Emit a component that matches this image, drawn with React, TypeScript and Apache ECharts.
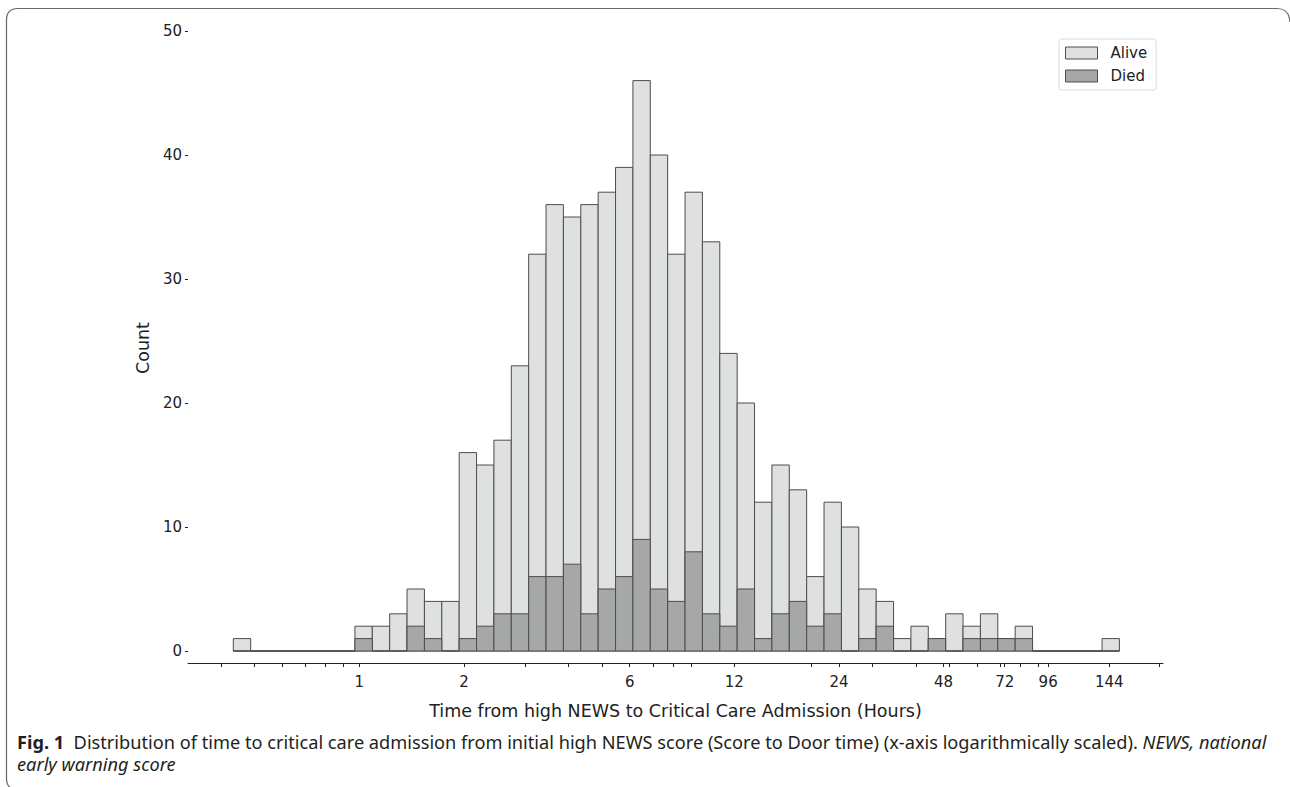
import React, { useEffect, useRef } from "react";
import * as echarts from "echarts";

// ---- data ----
// histogram bins: 51 equal-width bins on a log10(hours) scale
const BIN_LOG_START = -0.3626; // log10 of first bin edge (~0.434 h)
const BIN_LOG_WIDTH = 0.05; // bin width in log10(hours)
const ALIVE = [
  1, 0, 0, 0, 0, 0, 0, 2, 2, 3, 5, 4, 4, 16, 15, 17, 23, 32, 36, 35, 36, 37, 39, 46, 40, 32, 37, 33,
  24, 20, 12, 15, 13, 6, 12, 10, 5, 4, 1, 2, 1, 3, 2, 3, 1, 2, 0, 0, 0, 0, 1,
];
const DIED = [
  0, 0, 0, 0, 0, 0, 0, 1, 0, 0, 2, 1, 0, 1, 2, 3, 3, 6, 6, 7, 3, 5, 6, 9, 5, 4, 8, 3,
  2, 5, 1, 3, 4, 2, 3, 0, 1, 2, 0, 0, 1, 0, 1, 1, 1, 1, 0, 0, 0, 0, 0,
];
const X_LABEL_HOURS = [1, 2, 6, 12, 24, 48, 72, 96, 144];
const X_MINOR_HOURS = [0.4, 0.5, 0.6, 0.7, 0.8, 0.9, 3, 4, 5, 7, 8, 9, 20, 30, 40, 50, 60, 70, 80, 90, 200];
const X_MIN_HOURS = 0.3214;
const X_MAX_HOURS = 205.5;
const Y_MAX = 50;
const Y_INTERVAL = 10;

const SERIES_NAMES = ["Alive", "Died"];
const X_TITLE = "Time from high NEWS to Critical Care Admission (Hours)";
const Y_TITLE = "Count";
const CAPTION_1A = "Fig. 1";
const CAPTION_1B =
  "Distribution of time to critical care admission from initial high NEWS score (Score to Door time) (x-axis logarithmically scaled). ";
const CAPTION_1C = "NEWS, national";
const CAPTION_2 = "early warning score";

const FONT = "DejaVu Sans";
const TICK_SIZE = 15;
const TITLE_SIZE = 17.5;
const CAP_FONT = "Noto Sans";
const CAP_SIZE = 18.2;
const ALIVE_FILL = "#dfe0e0";
const DIED_FILL = "#a6a7a7";
const EDGE = "#4d4d4d";
const TEXT = "#222";
const CAP_COLOR = "#231f20";

echarts.graphic.registerShape(
  "figframe",
  echarts.graphic.extendPath(
    "M 1290 22 Q 1289 8.5 1277 8.5 L 18 8.5 Q 6.5 8.5 6.5 20 L 6.5 778 Q 6.5 786 11 788",
    {}
  )
);

function binData(values: number[]) {
  return values.map((v, i) => [
    BIN_LOG_START + i * BIN_LOG_WIDTH,
    BIN_LOG_START + (i + 1) * BIN_LOG_WIDTH,
    v,
  ]);
}

function makeRender(fill: string) {
  return (params: any, api: any) => {
    const p0 = api.coord([api.value(0), api.value(2)]);
    const p1 = api.coord([api.value(1), 0]);
    return {
      type: "rect",
      shape: { x: p0[0], y: p0[1], width: p1[0] - p0[0], height: p1[1] - p0[1] },
      style: { fill, stroke: EDGE, lineWidth: 1 },
    };
  };
}

export default function App() {
  const ref = useRef<HTMLDivElement>(null);
  useEffect(() => {
    if (!ref.current) return;
    const chart = echarts.init(ref.current, undefined, { renderer: "svg" });
    const allTicks = [...X_LABEL_HOURS, ...X_MINOR_HOURS].map((h) => Math.log10(h));
    chart.setOption({
      animation: false,
      backgroundColor: "#fff",
      grid: { left: 188, right: 127, top: 31, bottom: 136, containLabel: false },
      xAxis: {
        type: "value",
        min: Math.log10(X_MIN_HOURS),
        max: Math.log10(X_MAX_HOURS),
        offset: 12,
        axisLine: { show: true, onZero: false, lineStyle: { color: TEXT, width: 1 } },
        axisTick: { show: true, customValues: allTicks, length: 4, lineStyle: { color: TEXT } },
        axisLabel: {
          customValues: X_LABEL_HOURS.map((h) => Math.log10(h)),
          formatter: (v: number) => String(Math.round(Math.pow(10, v))),
          fontFamily: FONT,
          fontSize: TICK_SIZE,
          color: TEXT,
          margin: 11,
        },
        splitLine: { show: false },
      },
      yAxis: {
        type: "value",
        min: 0,
        max: Y_MAX,
        interval: Y_INTERVAL,
        axisLine: { show: false, onZero: false },
        axisTick: { show: true, length: 3, lineStyle: { color: TEXT } },
        axisLabel: { fontFamily: FONT, fontSize: TICK_SIZE, color: TEXT, margin: 6 },
        splitLine: { show: false },
      },
      legend: {
        orient: "vertical",
        left: 1059,
        top: 39,
        padding: [5, 9, 5, 6],
        itemGap: 5,
        itemWidth: 32,
        itemHeight: 12,
        borderColor: "#dcdcdc",
        borderWidth: 1,
        borderRadius: 3,
        backgroundColor: "#fff",
        textStyle: { fontFamily: FONT, fontSize: TICK_SIZE, color: TEXT, lineHeight: 18, padding: [0, 0, 0, 8] },
        data: [
          { name: SERIES_NAMES[0], icon: "rect", itemStyle: { color: ALIVE_FILL, borderColor: EDGE, borderWidth: 1 } },
          { name: SERIES_NAMES[1], icon: "rect", itemStyle: { color: DIED_FILL, borderColor: EDGE, borderWidth: 1 } },
        ],
      },
      series: [
        {
          name: SERIES_NAMES[0],
          type: "custom",
          renderItem: makeRender(ALIVE_FILL),
          encode: { x: [0, 1], y: 2 },
          itemStyle: { color: ALIVE_FILL, borderColor: EDGE, borderWidth: 1 },
          data: binData(ALIVE),
          z: 2,
        },
        {
          name: SERIES_NAMES[1],
          type: "custom",
          renderItem: makeRender(DIED_FILL),
          encode: { x: [0, 1], y: 2 },
          itemStyle: { color: DIED_FILL, borderColor: EDGE, borderWidth: 1 },
          data: binData(DIED),
          z: 3,
        },
      ],
      graphic: [
        { type: "figframe", silent: true, style: { fill: "none", stroke: "#666", lineWidth: 1.2 } },
        {
          type: "text",
          x: 143,
          y: 348,
          rotation: Math.PI / 2,
          style: {
            text: Y_TITLE,
            fontFamily: FONT,
            fontSize: TITLE_SIZE,
            fill: TEXT,
            align: "center",
            verticalAlign: "middle",
          },
        },
        {
          type: "text",
          x: 675.5,
          y: 711,
          style: {
            text: X_TITLE,
            fontFamily: FONT,
            fontSize: TITLE_SIZE,
            fill: TEXT,
            align: "center",
            verticalAlign: "middle",
          },
        },
        {
          type: "text",
          x: 17,
          y: 742,
          style: {
            text: `{b|${CAPTION_1A}}  {n|${CAPTION_1B}}{i|${CAPTION_1C}}`,
            align: "left",
            verticalAlign: "middle",
            fontFamily: CAP_FONT,
            fontSize: CAP_SIZE,
            fill: CAP_COLOR,
            rich: {
              b: { fontFamily: CAP_FONT, fontSize: CAP_SIZE, fontWeight: "bold", fill: CAP_COLOR },
              n: { fontFamily: CAP_FONT, fontSize: CAP_SIZE, fill: CAP_COLOR },
              i: { fontFamily: CAP_FONT, fontSize: CAP_SIZE, fontStyle: "italic", fill: CAP_COLOR },
            },
          },
        },
        {
          type: "text",
          x: 17,
          y: 764,
          style: {
            text: CAPTION_2,
            fontFamily: CAP_FONT,
            fontSize: CAP_SIZE,
            fontStyle: "italic",
            fill: CAP_COLOR,
            align: "left",
            verticalAlign: "middle",
          },
        },
      ],
    });
    return () => chart.dispose();
  }, []);
  return (
    <div
      ref={ref}
      style={{ position: "fixed", left: 0, top: 0, width: 1290, height: 787, background: "#fff" }}
    />
  );
}
